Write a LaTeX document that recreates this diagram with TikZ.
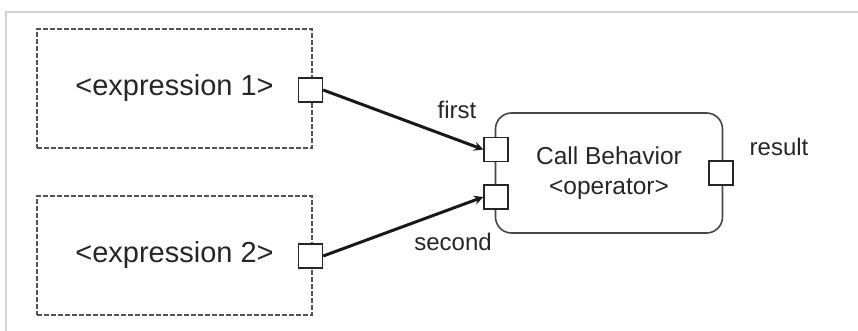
\documentclass[tikz,border=0pt]{standalone}
\usepackage{fontspec}
\setmainfont{Liberation Sans}
\usetikzlibrary{arrows.meta}

\tikzset{
  exprbox/.style={draw=gray!65!black, line width=1.8pt, dash pattern=on 5pt off 2pt,
    minimum width=275pt, minimum height=119pt, font=\fontsize{29}{32}\selectfont, text=black!85},
  pin/.style={draw=gray!30!black, fill=white, line width=1.4pt, minimum size=24pt, inner sep=0pt},
  action/.style={draw=gray!55!black, line width=1.6pt, rounded corners=16pt,
    minimum width=227pt, minimum height=120pt, align=center,
    font=\fontsize{24.5}{30}\selectfont, text=black!85},
  pinlabel/.style={font=\fontsize{24}{26}\selectfont, text=black!85},
  flow/.style={->, line width=3pt, black!90}
}

\begin{document}
\begin{tikzpicture}[x=1pt, y=-1pt, >=stealth]
  \useasboundingbox (0,0) rectangle (858,331);

  % frame edges (faint gray)
  \draw[gray!35, line width=1.5pt] (858,12) -- (6,12) -- (6,331);

  % the two argument expressions
  \node[exprbox] (expr1) at (174.5,88.5) {<expression 1>};
  \node[exprbox] (expr2) at (174.5,255.5) {<expression 2>};

  % output pins of the expressions
  \node[pin] (out1) at (310.5,90) {};
  \node[pin] (out2) at (310.5,256) {};

  % the call behavior action
  \node[action] (call) at (609,173) {Call Behavior\\<operator>};

  % pins of the action
  \node[pin] (first) at (496,149.5) {};
  \node[pin] (second) at (496,197) {};
  \node[pin] (result) at (721,173) {};

  % pin names
  \node[pinlabel] (firstlbl) at (457,110) {first};
  \node[pinlabel] (secondlbl) at (453,242) {second};
  \node[pinlabel] (resultlbl) at (779,147) {result};

  % object flows
  \draw[flow] (out1.east) -- (first.west);
  \draw[flow] (out2.east) -- (second.west);

\end{tikzpicture}
\end{document}
